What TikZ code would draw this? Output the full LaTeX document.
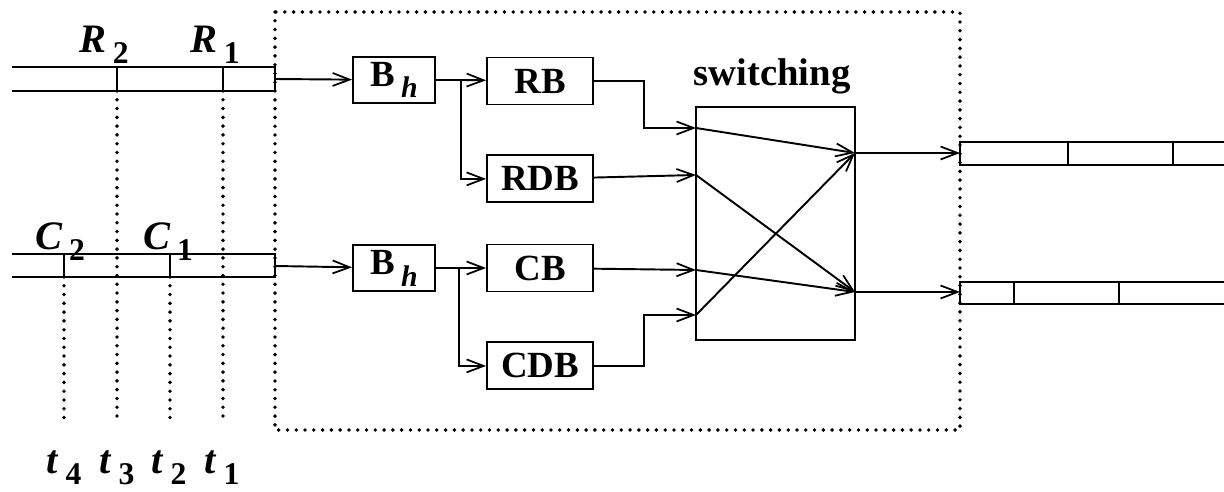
\documentclass[tikz,border=0pt]{standalone}
\usepackage{fontspec}
\setmainfont{Liberation Serif}
\usetikzlibrary{positioning, arrows.meta}

% bold italic letter with a lowered index
\newcommand{\idx}[2]{\textbf{\textit{#1}}\,\raisebox{-.6ex}{\fontsize{18}{18}\selectfont\textbf{#2}}}

\begin{document}
\begin{tikzpicture}[
    x=0.02cm, y=-0.02cm,
    line width=1.1pt,
    box/.style={rectangle, draw, inner sep=0pt, minimum width=2.12cm, minimum height=0.94cm, font=\fontsize{21}{24}\selectfont\bfseries},
    bh/.style={box, minimum width=1.64cm, minimum height=0.92cm},
    arrow/.style={-{Straight Barb[length=3.4mm, width=2.6mm, line width=1pt]}},
    dots/.style={line width=2.2pt, line cap=round, dash pattern=on 0pt off 5pt},
    lbl/.style={inner sep=0pt, font=\fontsize{23}{26}\selectfont}
]
\useasboundingbox (0,0) rectangle (1224,492);

% dotted frame
\draw[dots] (275,12) rectangle (960,430);

% input queues
\draw (12,67) -- (275,67) -- (275,91) -- (12,91);
\draw (117,67) -- (117,91);
\draw (223,67) -- (223,91);
\draw (12,254) -- (275,254) -- (275,277) -- (12,277);
\draw (64,254) -- (64,277);
\draw (170,254) -- (170,277);
\coordinate (rq) at (275,79);
\coordinate (cq) at (275,266);

\node[lbl] (r2) at (104,45) {\idx{R}{2}};
\node[lbl] (r1) at (215,45) {\idx{R}{1}};
\node[lbl] (c2) at (60,242) {\idx{C}{2}};
\node[lbl] (c1) at (168,242) {\idx{C}{1}};

% time marks
\node[lbl] (t4) at (64,468) {\idx{t}{4}};
\node[lbl] (t3) at (117,468) {\idx{t}{3}};
\node[lbl] (t2) at (169,468) {\idx{t}{2}};
\node[lbl] (t1) at (222,468) {\idx{t}{1}};
\draw[dots] (64,277) -- (64,422);
\draw[dots] (117,91) -- (117,422);
\draw[dots] (170,277) -- (170,422);
\draw[dots] (223,91) -- (223,422);

% buffers
\node[bh] (bhr) at (394,80) {B\,\raisebox{-.7ex}{\fontsize{17}{17}\selectfont\textit{h}}};
\node[bh] (bhc) at (394,268) {B\,\raisebox{-.7ex}{\fontsize{17}{17}\selectfont\textit{h}}};
\node[box] (rb) at (540,81) {RB};
\node[box, below=0.98cm of rb] (rdb) {RDB};
\node[box] (cb) at (540,268) {CB};
\node[box, below=0.98cm of cb] (cdb) {CDB};

\node[rectangle, draw, minimum width=3.18cm, minimum height=4.66cm] (sw) at (775.5,223.5) {};
\node[lbl, font=\fontsize{22}{24}\selectfont\bfseries] (swl) at (772,76) {switching};

\coordinate (si1) at (696,128);
\coordinate (si2) at (696,175);
\coordinate (si3) at (696,270);
\coordinate (si4) at (696,315);
\coordinate (so1) at (855,153);
\coordinate (so2) at (855,292);

\draw[arrow] (rq) -- (bhr);
\draw[arrow] (cq) -- (bhc);
\draw[arrow] (bhr.east) -- ++(25,0) -- (rb);
\draw[arrow] (bhr.east) -- ++(25,0) |- (rdb);
\draw[arrow] (bhc.east) -- ++(23,0) -- (cb);
\draw[arrow] (bhc.east) -- ++(23,0) |- (cdb);

\draw[arrow] (rb.east) -- ++(50,0) |- (si1);
\draw[arrow] (rdb) -- (si2);
\draw[arrow] (cb) -- (si3);
\draw[arrow] (cdb.east) -- ++(50,0) |- (si4);

\draw[arrow] (si1) -- (so1);
\draw[arrow] (si2) -- (so2);
\draw[arrow] (si3) -- (so2);
\draw[arrow] (si4) -- (so1);

% output queues
\coordinate (oq1) at (960,153);
\coordinate (oq2) at (960,292);
\draw[arrow] (so1) -- (oq1);
\draw[arrow] (so2) -- (oq2);
\draw (1224,142) -- (960,142) -- (960,165) -- (1224,165);
\draw (1068,142) -- (1068,165);
\draw (1173,142) -- (1173,165);
\draw (1224,282) -- (960,282) -- (960,304) -- (1224,304);
\draw (1014,282) -- (1014,304);
\draw (1119,282) -- (1119,304);
\end{tikzpicture}
\end{document}
